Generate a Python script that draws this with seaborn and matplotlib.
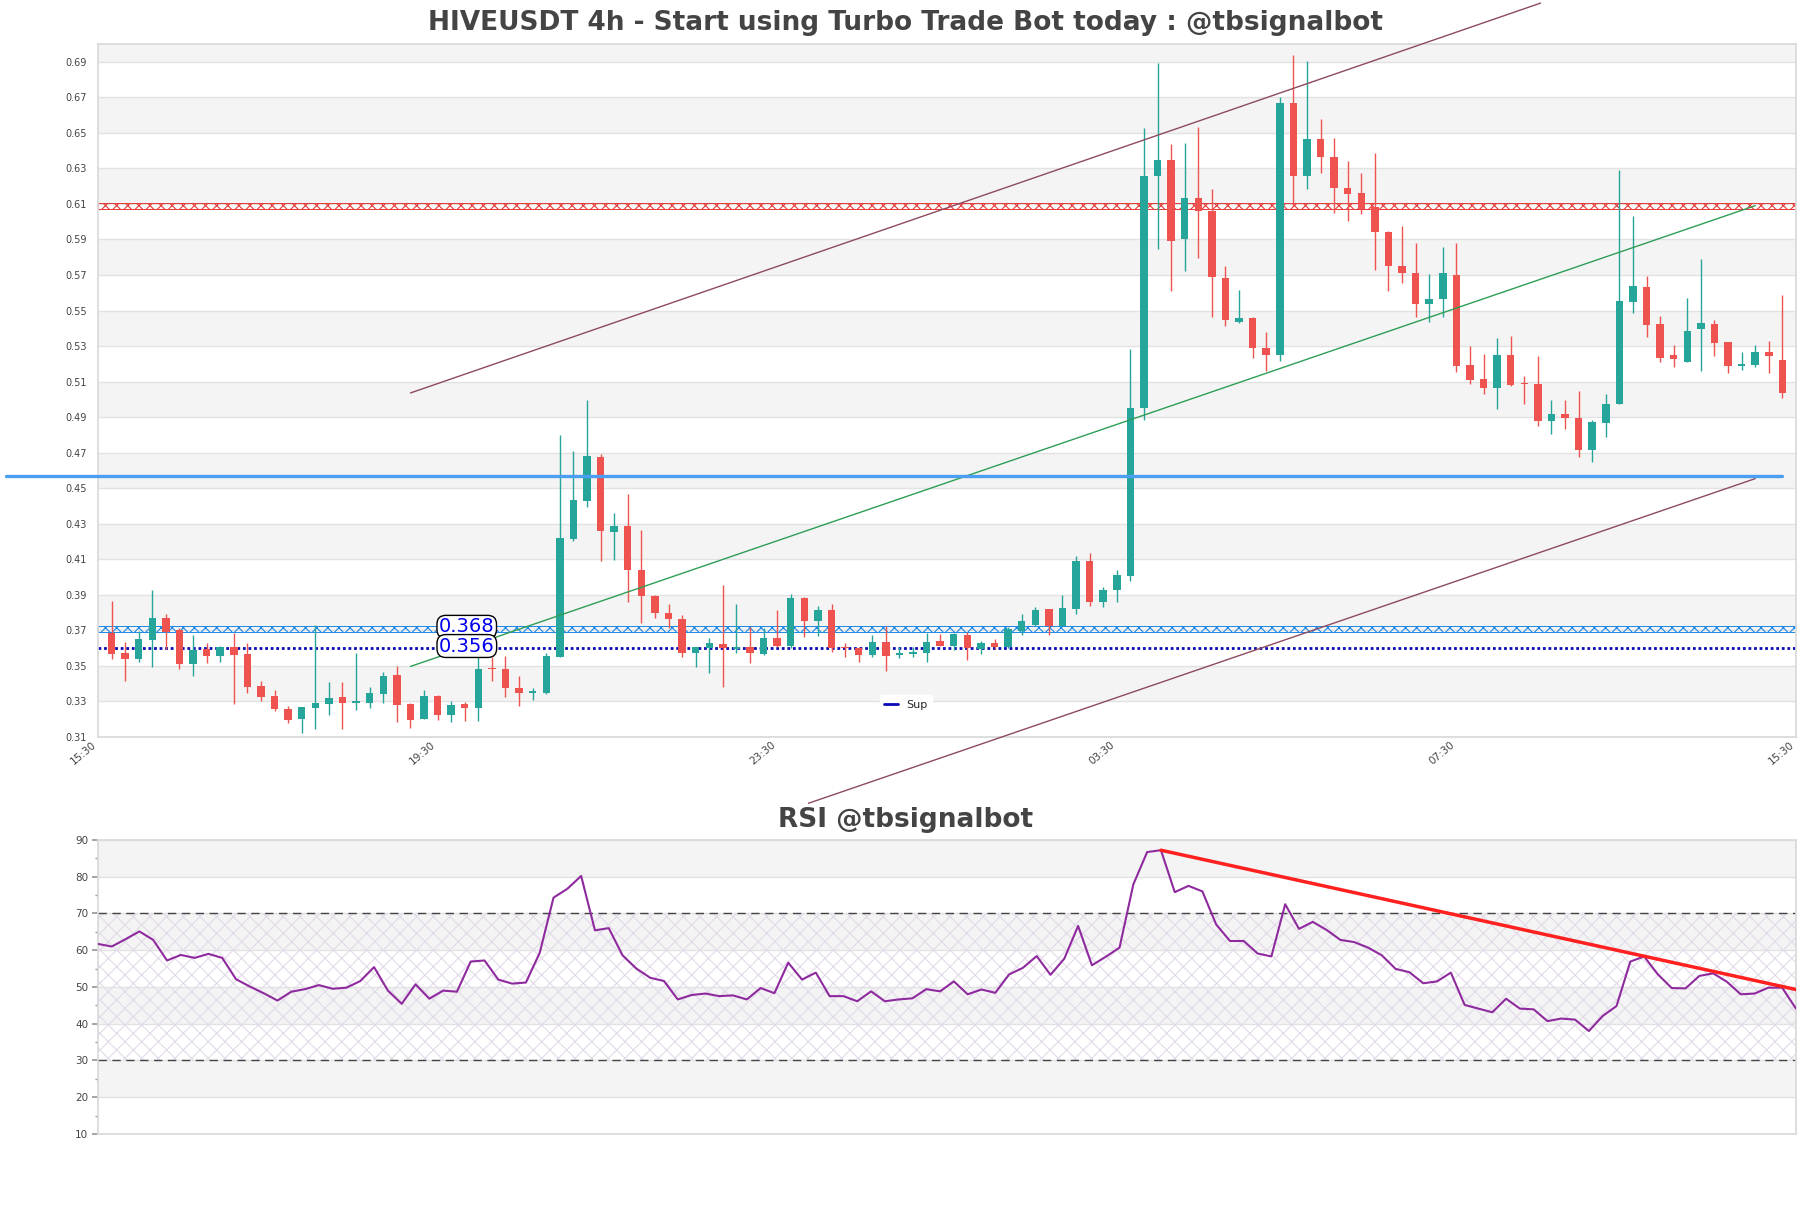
import matplotlib
matplotlib.use('Agg')
import matplotlib.pyplot as plt
import seaborn as sns
import numpy as np
import pandas as pd

# --- candles (4h) ---
opens = [0.3688, 0.3571, 0.3539, 0.3646, 0.3770, 0.3703, 0.3511, 0.3593, 0.3556, 0.3605,
         0.3567, 0.3386, 0.3330, 0.3260, 0.3202, 0.3264, 0.3286, 0.3324, 0.3292, 0.3292,
         0.3341, 0.3448, 0.3285, 0.3202, 0.3333, 0.3224, 0.3285, 0.3264, 0.3490, 0.3480,
         0.3373, 0.3345, 0.3349, 0.3552, 0.4217, 0.4428, 0.4678, 0.4252, 0.4290, 0.4042,
         0.3895, 0.3800, 0.3763, 0.3571, 0.3603, 0.3622, 0.3597, 0.3605, 0.3567, 0.3656,
         0.3612, 0.3881, 0.3750, 0.3812, 0.3603, 0.3603, 0.3561, 0.3637, 0.3561, 0.3567,
         0.3575, 0.3640, 0.3612, 0.3674, 0.3593, 0.3627, 0.3605, 0.3699, 0.3731, 0.3821,
         0.3725, 0.3819, 0.4090, 0.3862, 0.3927, 0.4007, 0.4951, 0.6258, 0.6346, 0.5901,
         0.6133, 0.6062, 0.5685, 0.5436, 0.5459, 0.5290, 0.5247, 0.6666, 0.6258, 0.6467,
         0.6364, 0.6190, 0.6163, 0.6082, 0.5944, 0.5750, 0.5710, 0.5537, 0.5567, 0.5701,
         0.5193, 0.5114, 0.5065, 0.5249, 0.5088, 0.5086, 0.4879, 0.4916, 0.4897, 0.4717,
         0.4867, 0.4976, 0.5550, 0.5631, 0.5424, 0.5249, 0.5212, 0.5398, 0.5424, 0.5321,
         0.5189, 0.5193, 0.5264, 0.5221]
highs = [0.3863, 0.3637, 0.3699, 0.3929, 0.3793, 0.3712, 0.3674, 0.3627, 0.3612, 0.3688,
         0.3627, 0.3416, 0.3364, 0.3273, 0.3269, 0.3731, 0.3409, 0.3409, 0.3571, 0.3382,
         0.3463, 0.3499, 0.3292, 0.3367, 0.3339, 0.3300, 0.3298, 0.3552, 0.3552, 0.3556,
         0.3443, 0.3373, 0.3571, 0.4798, 0.4710, 0.4998, 0.4691, 0.4358, 0.4465, 0.4267,
         0.3900, 0.3849, 0.3787, 0.3608, 0.3656, 0.3957, 0.3849, 0.3721, 0.3712, 0.3816,
         0.3906, 0.3887, 0.3838, 0.3849, 0.3631, 0.3608, 0.3674, 0.3725, 0.3608, 0.3605,
         0.3684, 0.3680, 0.3684, 0.3693, 0.3640, 0.3650, 0.3721, 0.3793, 0.3834, 0.3823,
         0.3900, 0.4121, 0.4133, 0.3945, 0.4040, 0.5283, 0.6528, 0.6895, 0.6435, 0.6442,
         0.6530, 0.6183, 0.5748, 0.5617, 0.5462, 0.5378, 0.6699, 0.6937, 0.6905, 0.6578,
         0.6472, 0.6341, 0.6276, 0.6389, 0.5949, 0.5977, 0.5881, 0.5705, 0.5856, 0.5879,
         0.5300, 0.5255, 0.5343, 0.5356, 0.5131, 0.5244, 0.4995, 0.4995, 0.5048, 0.4886,
         0.5029, 0.6293, 0.6030, 0.5695, 0.5469, 0.5306, 0.5569, 0.5789, 0.5447, 0.5323,
         0.5268, 0.5306, 0.5330, 0.5588]
lows = [0.3537, 0.3416, 0.3524, 0.3495, 0.3593, 0.3480, 0.3443, 0.3514, 0.3524, 0.3285,
        0.3349, 0.3303, 0.3247, 0.3179, 0.3123, 0.3145, 0.3224, 0.3145, 0.3254, 0.3266,
        0.3292, 0.3185, 0.3153, 0.3202, 0.3198, 0.3185, 0.3190, 0.3190, 0.3415, 0.3326,
        0.3273, 0.3307, 0.3341, 0.3550, 0.4202, 0.4394, 0.4089, 0.4094, 0.3857, 0.3744,
        0.3768, 0.3712, 0.3552, 0.3492, 0.3462, 0.3382, 0.3571, 0.3514, 0.3561, 0.3608,
        0.3599, 0.3661, 0.3669, 0.3580, 0.3548, 0.3524, 0.3552, 0.3473, 0.3543, 0.3548,
        0.3524, 0.3610, 0.3590, 0.3533, 0.3567, 0.3593, 0.3599, 0.3674, 0.3725, 0.3674,
        0.3722, 0.3794, 0.3836, 0.3831, 0.3857, 0.3977, 0.4883, 0.5848, 0.5612, 0.5725,
        0.5793, 0.5461, 0.5411, 0.5428, 0.5235, 0.5159, 0.5215, 0.6095, 0.6183, 0.6276,
        0.6050, 0.6002, 0.6045, 0.5730, 0.5612, 0.5655, 0.5461, 0.5436, 0.5466, 0.5155,
        0.5086, 0.5029, 0.4943, 0.5078, 0.4973, 0.4849, 0.4807, 0.4835, 0.4675, 0.4647,
        0.4788, 0.4974, 0.5488, 0.5353, 0.5212, 0.5183, 0.5210, 0.5161, 0.5244, 0.5150,
        0.5168, 0.5180, 0.5150, 0.5005]
closes = [0.3567, 0.3539, 0.3652, 0.3770, 0.3693, 0.3511, 0.3590, 0.3556, 0.3605, 0.3561,
          0.3382, 0.3326, 0.3256, 0.3194, 0.3268, 0.3294, 0.3320, 0.3292, 0.3300, 0.3345,
          0.3443, 0.3281, 0.3194, 0.3330, 0.3224, 0.3279, 0.3262, 0.3482, 0.3482, 0.3373,
          0.3345, 0.3358, 0.3556, 0.4220, 0.4431, 0.4682, 0.4258, 0.4290, 0.4038, 0.3891,
          0.3800, 0.3763, 0.3571, 0.3605, 0.3627, 0.3599, 0.3605, 0.3571, 0.3656, 0.3614,
          0.3881, 0.3750, 0.3812, 0.3599, 0.3599, 0.3561, 0.3637, 0.3556, 0.3571, 0.3576,
          0.3633, 0.3612, 0.3680, 0.3599, 0.3627, 0.3605, 0.3706, 0.3750, 0.3816, 0.3725,
          0.3825, 0.4088, 0.3862, 0.3927, 0.4012, 0.4951, 0.6258, 0.6346, 0.5894, 0.6133,
          0.6062, 0.5688, 0.5446, 0.5459, 0.5290, 0.5247, 0.6666, 0.6258, 0.6467, 0.6364,
          0.6188, 0.6158, 0.6070, 0.5944, 0.5748, 0.5710, 0.5534, 0.5567, 0.5710, 0.5187,
          0.5108, 0.5065, 0.5249, 0.5080, 0.5084, 0.4879, 0.4916, 0.4896, 0.4717, 0.4871,
          0.4976, 0.5554, 0.5639, 0.5419, 0.5234, 0.5227, 0.5387, 0.5432, 0.5319, 0.5189,
          0.5198, 0.5264, 0.5245, 0.5037]

rsi = [61.7, 61.0, 63.0, 65.1, 62.8, 57.2, 58.7, 57.9, 59.0, 57.9,
       52.1, 50.1, 48.3, 46.3, 48.7, 49.4, 50.5, 49.5, 49.8, 51.6,
       55.4, 49.0, 45.4, 50.7, 46.8, 49.0, 48.7, 56.9, 57.2, 52.0,
       50.9, 51.2, 59.3, 74.3, 76.7, 80.2, 65.4, 66.0, 58.6, 55.0,
       52.5, 51.6, 46.6, 47.8, 48.2, 47.5, 47.7, 46.6, 49.7, 48.3,
       56.6, 52.0, 53.9, 47.5, 47.5, 46.1, 48.8, 46.1, 46.6, 46.9,
       49.4, 48.8, 51.5, 48.0, 49.3, 48.4, 53.4, 55.2, 58.4, 53.3,
       57.7, 66.6, 55.9, 58.2, 60.7, 77.9, 86.7, 87.2, 75.8, 77.5,
       76.0, 67.0, 62.5, 62.5, 59.1, 58.3, 72.5, 65.8, 67.7, 65.5,
       62.8, 62.2, 60.7, 58.6, 54.9, 54.0, 51.0, 51.5, 53.9, 45.1,
       44.1, 43.1, 46.8, 44.1, 43.9, 40.7, 41.4, 41.1, 38.0, 42.1,
       44.8, 56.9, 58.3, 53.4, 49.7, 49.6, 53.0, 53.7, 51.4, 48.0,
       48.2, 49.8, 49.8, 44.1]

time_labels = ['15:30', '19:30', '23:30', '03:30', '07:30', '15:30']
time_ticks = [-1, 24, 49, 74, 99, 124]

# levels
resistance = 0.609
sup_zone = 0.3708
sup_line = 0.360
pivot = 0.4568
pivot_span = [-7.8, 123]
level_labels = ['0.368', '0.356']

# trend lines (candle index, price)
upper_x, upper_y = [22, 105.2], [0.5036, 0.7230]
lower_x, lower_y = [51.3, 121], [0.2727, 0.4554]
green_x, green_y = [22, 121], [0.3497, 0.6090]
rsi_tl_x, rsi_tl_y = [77, 123], [87.2, 49.3]

UP = '#26a69a'
DOWN = '#ef5350'

sns.set_theme(style='white')
plt.rcParams['font.family'] = ['DejaVu Sans']
plt.rcParams['hatch.linewidth'] = 0.8

df = pd.DataFrame({'open': opens, 'high': highs, 'low': lows, 'close': closes})
df['idx'] = np.arange(len(df))
colors = np.where(df['close'] >= df['open'], UP, DOWN)

fig = plt.figure(figsize=(18.11, 12.08), dpi=100)
ax = fig.add_axes([0.0541, 0.3899, 0.9376, 0.5737])
ax2 = fig.add_axes([0.0541, 0.0613, 0.9376, 0.2434])

# ---------- price panel ----------
yt = np.round(np.arange(0.31, 0.70, 0.02), 2)
for k, lo in enumerate(yt):
    if k % 2 == 1:
        ax.axhspan(lo, lo + 0.02, color='#f4f4f4', lw=0, zorder=0)
ax.set_yticks(yt)
ax.set_yticklabels([f'{v:.2f}' for v in yt])
ax.grid(axis='y', color='#e2e2e2', lw=1, zorder=0.5)
ax.grid(axis='x', visible=False)

# hatched level strips
ax.axhspan(resistance - 0.0017, resistance + 0.0017, facecolor='none',
           edgecolor='#e53935', hatch='xxx', lw=0.7, zorder=2)
ax.axhspan(sup_zone - 0.0017, sup_zone + 0.0017, facecolor='none',
           edgecolor='#1e88e5', hatch='xxx', lw=0.7, zorder=2)
ax.axhline(sup_line, color='#0a0ab4', lw=2, ls=(0, (1, 1)), zorder=2, label='Sup')

# candles
ax.vlines(df['idx'], df['low'], df['high'], colors=colors, lw=1, zorder=3)
body = (df['close'] - df['open']).abs().clip(lower=0.0006)
ax.bar(df['idx'], body, bottom=df[['open', 'close']].min(axis=1), width=0.55,
       color=colors, lw=0, zorder=3)

# trend lines
ax.plot(upper_x, upper_y, color='#8e4a5e', lw=1, clip_on=False, zorder=4)
ax.plot(lower_x, lower_y, color='#8e4a5e', lw=1, clip_on=False, zorder=4)
ax.plot(green_x, green_y, color='#2e9e55', lw=1, zorder=4)
ax.plot(pivot_span, [pivot, pivot], color='#4a9ff0', lw=2.4, clip_on=False, zorder=4)

for val, txt in zip([sup_zone, sup_line], level_labels):
    ax.text(24.1, val + 0.0012, txt, color='#0000ee', fontsize=14, ha='left', va='center',
            zorder=6, bbox=dict(boxstyle='round,pad=0.1,rounding_size=0.45', fc='white',
                                ec='black', lw=1))

ax.set_xlim(-1, 124)
ax.set_ylim(0.31, 0.70)
ax.set_xticks(time_ticks)
ax.set_xticklabels(time_labels, rotation=40, ha='right')
ax.tick_params(axis='y', length=0, pad=8, labelsize=7, labelcolor='#444')
ax.tick_params(axis='x', length=0, pad=2, labelsize=7.5, labelcolor='#444')
for s in ax.spines.values():
    s.set_color('#d9d9d9')
leg = ax.legend(loc='lower center', bbox_to_anchor=(0.476, 0.025), fontsize=8,
                frameon=True, facecolor='white', edgecolor='white', framealpha=1,
                handlelength=1.2)
leg.get_lines()[0].set_linestyle('-')

# ---------- RSI panel ----------
for lo in [20, 40, 60, 80]:
    ax2.axhspan(lo, lo + 10, color='#f4f4f4', lw=0, zorder=0)
ax2.fill_between([0, 123], 30, 70, facecolor='none', edgecolor='#e3dae9',
                 hatch='xx', lw=0, zorder=0.6)
ax2.grid(axis='y', color='#e2e2e2', lw=1, zorder=0.5)
ax2.grid(axis='x', visible=False)
ax2.axhline(70, color='#444', lw=1, ls=(0, (6, 4)), zorder=2)
ax2.axhline(30, color='#444', lw=1, ls=(0, (6, 4)), zorder=2)
sns.lineplot(x=np.arange(len(rsi)), y=rsi, ax=ax2, color='#8e2a9e', lw=1.5, zorder=3)
ax2.plot(rsi_tl_x, rsi_tl_y, color='#ff2020', lw=2.5, zorder=4)
ax2.set_xlim(0, 123)
ax2.set_ylim(10, 90)
ax2.set_yticks(range(10, 91, 10))
ax2.set_yticks(range(15, 90, 10), minor=True)
ax2.set_xticks([])
ax2.tick_params(axis='y', which='major', left=True, length=4, color='#999', pad=3,
                labelsize=7.5, labelcolor='#444')
ax2.tick_params(axis='y', which='minor', left=True, length=2.5, color='#999')
for s in ax2.spines.values():
    s.set_color('#d9d9d9')

fig.text(0.5, 0.981, 'HIVEUSDT 4h - Start using Turbo Trade Bot today : @tbsignalbot',
         ha='center', va='center', fontsize=19, fontweight='bold', color='#444')
fig.text(0.5, 0.321, 'RSI @tbsignalbot', ha='center', va='center', fontsize=19,
         fontweight='bold', color='#444')

fig.savefig('out.png', dpi=100)
plt.close(fig)
